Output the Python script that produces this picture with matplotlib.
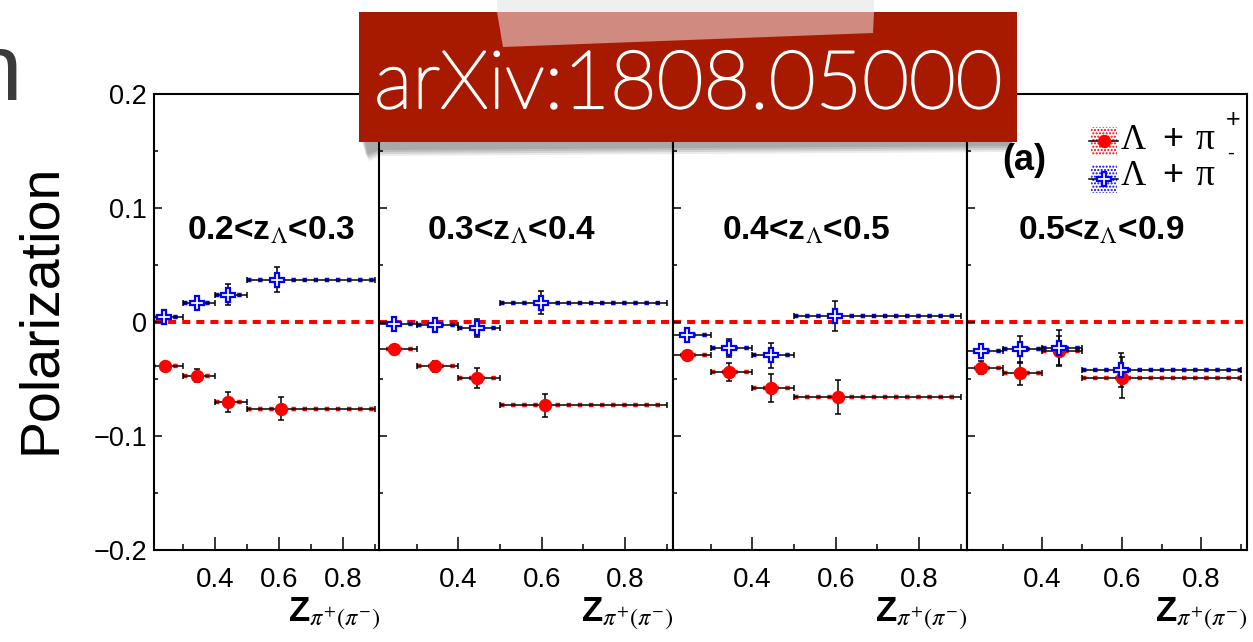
import numpy as np
import matplotlib
matplotlib.use('Agg')
import matplotlib.pyplot as plt
import matplotlib.patheffects as pe
from matplotlib.patches import Rectangle, Polygon
from matplotlib.lines import Line2D
from matplotlib.ticker import MultipleLocator

plt.rcParams['font.family'] = ['Liberation Sans', 'DejaVu Sans']
plt.rcParams['mathtext.fontset'] = 'stix'

# ---------------- data ----------------
panel_labels = [r'0.2<z$_{\Lambda}$<0.3', r'0.3<z$_{\Lambda}$<0.4',
                r'0.4<z$_{\Lambda}$<0.5', r'0.5<z$_{\Lambda}$<0.9']
bin_lo = [0.2, 0.3, 0.4, 0.5]
bin_hi = [0.3, 0.4, 0.5, 0.9]

# Lambda + pi+
z_pos = [[0.244, 0.344, 0.441, 0.606],
         [0.246, 0.345, 0.445, 0.607],
         [0.244, 0.345, 0.445, 0.605],
         [0.244, 0.343, 0.441, 0.600]]
pol_pos = [[-0.039, -0.047, -0.070, -0.076],
           [-0.024, -0.039, -0.049, -0.073],
           [-0.029, -0.044, -0.058, -0.066],
           [-0.040, -0.045, -0.025, -0.049]]
err_pos = [[0.004, 0.006, 0.009, 0.010],
           [0.004, 0.005, 0.009, 0.010],
           [0.004, 0.008, 0.012, 0.015],
           [0.006, 0.010, 0.013, 0.018]]

# Lambda + pi-
z_neg = [[0.241, 0.344, 0.441, 0.594],
         [0.246, 0.345, 0.445, 0.598],
         [0.244, 0.345, 0.445, 0.598],
         [0.244, 0.343, 0.441, 0.597]]
pol_neg = [[0.004, 0.017, 0.024, 0.037],
           [-0.002, -0.003, -0.005, 0.017],
           [-0.011, -0.023, -0.029, 0.005],
           [-0.025, -0.024, -0.023, -0.042]]
err_neg = [[0.003, 0.004, 0.009, 0.011],
           [0.003, 0.003, 0.008, 0.010],
           [0.003, 0.008, 0.011, 0.013],
           [0.005, 0.012, 0.016, 0.015]]

y_ticks = [-0.2, -0.1, 0.0, 0.1, 0.2]
x_ticks = [0.4, 0.6, 0.8]

# ---------------- layout ----------------
W, H = 1253, 642
fig = plt.figure(figsize=(W / 100, H / 100), dpi=100)


def fx(x):
    return x / W


def fy(y):
    return 1 - y / H


panel_px = [(154, 380), (379, 673), (673, 967), (967, 1247)]
label_xfrac = [0.515, 0.45, 0.452, 0.478]
top, bot = 94, 550
RED = '#ff0000'
BLUE = '#0000ff'

for i, (x0, x1) in enumerate(panel_px):
    ax = fig.add_axes([fx(x0), fy(bot), (x1 - x0) / W, (bot - top) / H])
    ax.set_xlim(0.21, 0.915)
    ax.set_ylim(-0.2, 0.2)
    for s in ax.spines.values():
        s.set_linewidth(1.5)
    ax.axhline(0, color=RED, lw=2.9, dashes=(2.0, 1.5), zorder=1)

    lo = np.array(bin_lo)
    hi = np.array(bin_hi)
    for zz, pp, ee, col in [(z_pos[i], pol_pos[i], err_pos[i], RED),
                            (z_neg[i], pol_neg[i], err_neg[i], BLUE)]:
        zz = np.array(zz)
        pp = np.array(pp)
        ax.hlines(pp, lo, hi, colors=col, linestyles=(0, (1, 1.5)), lw=3.2, zorder=2)
        ax.errorbar(zz, pp, xerr=[zz - lo, hi - zz], yerr=ee, fmt='none',
                    ecolor='black', elinewidth=1.1, capsize=2.2, capthick=1.1, zorder=3)
    ax.plot(z_pos[i], pol_pos[i], 'o', color=RED, ms=8.6, mec=RED, zorder=4, ls='none')
    ax.plot(z_neg[i], pol_neg[i], 'P', mfc='white', mec=BLUE, mew=1.6, ms=10.5,
            zorder=5, ls='none')

    ax.set_xticks(x_ticks, [f'{v:g}' for v in x_ticks])
    ax.xaxis.set_minor_locator(MultipleLocator(0.1))
    ax.set_yticks(y_ticks, [f'{v:g}'.replace('-', '\u2212') for v in y_ticks])
    ax.yaxis.set_minor_locator(MultipleLocator(0.05))
    ax.tick_params(axis='x', which='major', direction='in', length=9.4, width=1.1,
                   labelsize=20, pad=12)
    ax.tick_params(axis='x', which='minor', direction='in', length=4.3, width=1.1)
    ax.tick_params(axis='y', which='major', direction='in', length=5.8, width=1.1,
                   labelsize=19.5, pad=5)
    ax.tick_params(axis='y', which='minor', direction='in', length=2.9, width=1.1)
    if i > 0:
        ax.tick_params(axis='y', labelleft=False)

    ax.set_xlabel(r'Z$_{\pi^{+}(\pi^{-})}$', loc='right', fontsize=25,
                  fontweight='bold', labelpad=2)
    ax.text(label_xfrac[i], 0.072, panel_labels[i], transform=ax.get_yaxis_transform(),
            ha='center', va='baseline', fontsize=24, fontweight='bold')

# y label
fig.text(fx(41), fy(309), 'Polarization', rotation=90, ha='center', va='center',
         fontsize=40)
# cropped slide letter at the left edge
fig.text(fx(22), fy(100), 'n', ha='right', va='baseline', fontsize=68, color='#3a3a3a')

# (a) label and legend
fig.text(fx(1002), fy(160), '(a)', ha='left', va='center', fontsize=26, fontweight='bold')
for yc, base, col, mk in [(141, 149, RED, 'o'), (178.5, 185, BLUE, 'P')]:
    fig.add_artist(Rectangle((fx(1091), fy(yc + 14)), 26 / W, 28 / H, facecolor='none',
                             edgecolor=col, lw=0, hatch='.....', transform=fig.transFigure))
    fig.add_artist(Line2D([fx(1089), fx(1118)], [fy(yc), fy(yc)], color='black', lw=1.1,
                          transform=fig.transFigure))
    if mk == 'o':
        fig.add_artist(Line2D([fx(1104)], [fy(yc)], marker='o', color=RED, ms=8.6,
                              transform=fig.transFigure))
    else:
        fig.add_artist(Line2D([fx(1104)], [fy(yc)], marker='P', mfc='white', mec=BLUE,
                              mew=1.6, ms=10.5, transform=fig.transFigure))
    fig.text(fx(1121), fy(base), '\u039b', ha='left', va='baseline', fontsize=25,
             family='Liberation Serif')
    fig.text(fx(1162), fy(base), '+', ha='left', va='baseline', fontsize=26,
             family='Liberation Sans')
    fig.text(fx(1196), fy(base), '\u03c0', ha='left', va='baseline', fontsize=27,
             family='Liberation Serif')
fig.text(fx(1226), fy(127), '+', ha='left', va='baseline', fontsize=18,
         family='Liberation Sans')
fig.text(fx(1227), fy(159), '-', ha='left', va='baseline', fontsize=15,
         family='Liberation Sans')

# arXiv banner
for k, a in enumerate([0.10, 0.10, 0.10, 0.08]):
    fig.add_artist(Polygon([(fx(362 + k), fy(141)), (fx(1013), fy(141)),
                            (fx(1010), fy(146 + 2 * k)), (fx(380), fy(150 + 2 * k)),
                            (fx(366 + k), fy(155 + 2 * k))],
                           closed=True, facecolor='black', edgecolor='none', alpha=a,
                           transform=fig.transFigure, zorder=9))
fig.add_artist(Rectangle((fx(359), fy(142)), (1017 - 359) / W, (142 - 12) / H,
                         facecolor='#a81a00', edgecolor='none',
                         transform=fig.transFigure, zorder=10))
fig.add_artist(Polygon([(fx(497), fy(0)), (fx(874), fy(0)), (fx(874), fy(12)),
                        (fx(497), fy(12))], closed=True, facecolor='#efefef',
                       edgecolor='none', transform=fig.transFigure, zorder=11))
fig.add_artist(Polygon([(fx(497), fy(12)), (fx(874), fy(12)), (fx(873), fy(33)),
                        (fx(503), fy(47))], closed=True, facecolor='#d08a80',
                       edgecolor='none', transform=fig.transFigure, zorder=11))
fig.text(fx(688), fy(108), 'arXiv:1808.05000', ha='center', va='baseline',
         color='white', fontsize=58, family=['Lato', 'DejaVu Sans'], fontweight='light',
         zorder=12, path_effects=[pe.withStroke(linewidth=1.6, foreground='white')])

fig.savefig('out.png', dpi=100)
